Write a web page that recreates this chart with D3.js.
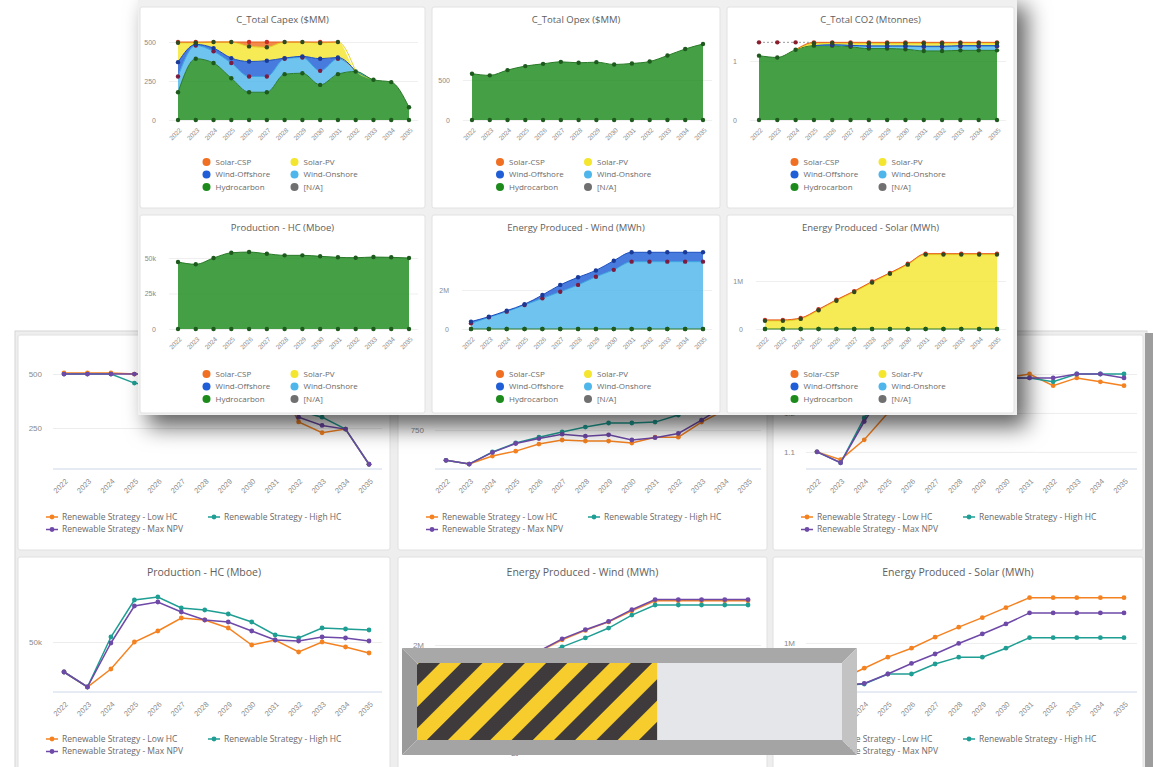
<!DOCTYPE html>
<html>
<head>
<meta charset="utf-8">
<script src="https://cdn.jsdelivr.net/npm/d3@7"></script>
<style>
html,body{margin:0;padding:0;background:#ffffff;}
svg{display:block;font-family:"Open Sans","Noto Sans","DejaVu Sans",sans-serif;}
</style>
</head>
<body>
<svg id="chart" width="1153" height="767"></svg>
<script>
// ---------------- DATA ----------------
const years = ["2022","2023","2024","2025","2026","2027","2028","2029","2030","2031","2032","2033","2034","2035"];

// foreground: stacked areas by technology
const capexHydrocarbon  = [178, 393, 365, 268, 178, 178, 294, 300, 225, 294, 311, 258, 243, 82];
const capexWindOnshore  = [101, 85, 75, 97, 101, 101, 99, 101, 90, 99, 0, 0, 0, 0];
const capexWindOffshore = [92, 7, 21, 32, 96, 101, 4, 7, 78, 8, 0, 0, 0, 0];
const capexSolarPV      = [124, 10, 39, 103, 97, 86, 103, 92, 101, 99, 0, 0, 0, 0];
const capexSolarCSP     = [5, 5, 0, 0, 28, 34, 0, 0, 6, 0, 0, 0, 0, 0];
const capexNA           = [0, 0, 0, 0, 0, 0, 0, 0, 0, 0, 0, 0, 0, 0];

const opexHydrocarbon   = [579, 558, 624, 674, 702, 727, 715, 723, 694, 707, 731, 806, 888, 950];
const opexWindOnshore   = [0, 0, 0, 0, 0, 0, 0, 0, 0, 0, 0, 0, 0, 0];
const opexWindOffshore  = [0, 0, 0, 0, 0, 0, 0, 0, 0, 0, 0, 0, 0, 0];
const opexSolarPV       = [0, 0, 0, 0, 0, 0, 0, 0, 0, 0, 0, 0, 0, 0];
const opexSolarCSP      = [0, 0, 0, 0, 0, 0, 0, 0, 0, 0, 0, 0, 0, 0];
const opexNA            = [0, 0, 0, 0, 0, 0, 0, 0, 0, 0, 0, 0, 0, 0];

const co2Hydrocarbon    = [1.09, 1.06, 1.19, 1.26, 1.26, 1.24, 1.21, 1.21, 1.20, 1.17, 1.17, 1.18, 1.18, 1.18];
const co2WindOnshore    = [0, 0, 0, 0, 0.01, 0.02, 0.04, 0.04, 0.05, 0.07, 0.07, 0.07, 0.07, 0.07];
const co2WindOffshore   = [0, 0, 0, 0, 0.005, 0.005, 0.005, 0.005, 0.005, 0.01, 0.01, 0.01, 0.01, 0.01];
const co2SolarPV        = [0, 0, 0, 0.04, 0.03, 0.035, 0.045, 0.045, 0.045, 0.05, 0.05, 0.045, 0.045, 0.045];
const co2SolarCSP       = [0, 0, 0, 0.016, 0.011, 0.016, 0.016, 0.016, 0.016, 0.016, 0.016, 0.011, 0.011, 0.011];
const co2NA             = [0.226, 0.256, 0.126, 0, 0, 0, 0, 0, 0, 0, 0, 0, 0, 0];

const hcHydrocarbon     = [47200, 45600, 50000, 53700, 54200, 53000, 51900, 51900, 51200, 50500, 50200, 50700, 50500, 50000];
const hcWindOnshore     = [0, 0, 0, 0, 0, 0, 0, 0, 0, 0, 0, 0, 0, 0];
const hcWindOffshore    = [0, 0, 0, 0, 0, 0, 0, 0, 0, 0, 0, 0, 0, 0];
const hcSolarPV         = [0, 0, 0, 0, 0, 0, 0, 0, 0, 0, 0, 0, 0, 0];
const hcSolarCSP        = [0, 0, 0, 0, 0, 0, 0, 0, 0, 0, 0, 0, 0, 0];
const hcNA              = [0, 0, 0, 0, 0, 0, 0, 0, 0, 0, 0, 0, 0, 0];

const windHydrocarbon   = [0, 0, 0, 0, 0, 0, 0, 0, 0, 0, 0, 0, 0, 0];
const windWindOnshore   = [290000, 600000, 890000, 1230000, 1570000, 1910000, 2260000, 2680000, 3030000, 3450000, 3450000, 3450000, 3450000, 3450000];
const windWindOffshore  = [90000, 30000, 50000, 40000, 170000, 350000, 390000, 320000, 470000, 480000, 480000, 480000, 480000, 480000];
const windSolarPV       = [0, 0, 0, 0, 0, 0, 0, 0, 0, 0, 0, 0, 0, 0];
const windSolarCSP      = [0, 0, 0, 0, 0, 0, 0, 0, 0, 0, 0, 0, 0, 0];
const windNA            = [0, 0, 0, 0, 0, 0, 0, 0, 0, 0, 0, 0, 0, 0];

const solarHydrocarbon  = [0, 0, 0, 0, 0, 0, 0, 0, 0, 0, 0, 0, 0, 0];
const solarWindOnshore  = [0, 0, 0, 0, 0, 0, 0, 0, 0, 0, 0, 0, 0, 0];
const solarWindOffshore = [0, 0, 0, 0, 0, 0, 0, 0, 0, 0, 0, 0, 0, 0];
const solarSolarPV      = [170000, 170000, 210000, 390000, 590000, 770000, 970000, 1150000, 1340000, 1550000, 1550000, 1550000, 1550000, 1550000];
const solarSolarCSP     = [20000, 20000, 20000, 20000, 20000, 20000, 20000, 20000, 20000, 20000, 20000, 20000, 20000, 20000];
const solarNA           = [0, 0, 0, 0, 0, 0, 0, 0, 0, 0, 0, 0, 0, 0];

// background: line charts by strategy
const capexLowHC  = [505, 505, 505, 500, 500, 500, 500, 500, 500, 500, 278, 228, 245, 82];
const capexHighHC = [500, 500, 500, 458, 440, 430, 430, 420, 400, 380, 330, 300, 245, 82];
const capexMaxNPV = [500, 500, 500, 500, 500, 500, 500, 500, 500, 500, 300, 262, 245, 82];

const opexLowHC  = [579, 558, 603, 631, 671, 694, 688, 688, 677, 710, 710, 795, 863, 920];
const opexHighHC = [579, 558, 626, 677, 710, 739, 767, 790, 790, 795, 835, 880, 940, 990];
const opexMaxNPV = [579, 558, 624, 674, 702, 727, 715, 723, 694, 707, 731, 806, 888, 950];

const co2LowHC  = [1.10, 1.08, 1.131, 1.20, 1.25, 1.27, 1.28, 1.28, 1.29, 1.30, 1.27, 1.29, 1.28, 1.27];
const co2HighHC = [1.10, 1.072, 1.187, 1.27, 1.28, 1.28, 1.29, 1.29, 1.29, 1.29, 1.28, 1.30, 1.30, 1.30];
const co2MaxNPV = [1.10, 1.072, 1.178, 1.27, 1.28, 1.28, 1.29, 1.29, 1.29, 1.29, 1.29, 1.30, 1.30, 1.29];

const hcLowHC  = [47000, 45500, 47300, 50000, 51100, 52400, 52200, 51400, 49700, 50200, 49000, 50000, 49500, 48900];
const hcHighHC = [47000, 45500, 50500, 54200, 54500, 53400, 53200, 52800, 52000, 50700, 50400, 51400, 51300, 51200];
const hcMaxNPV = [47000, 45500, 49900, 53600, 54000, 53000, 52200, 52000, 51100, 50200, 50100, 50500, 50400, 50100];

const windLowHC  = [380000, 630000, 940000, 1270000, 1720000, 2220000, 2620000, 2980000, 3450000, 3880000, 3880000, 3880000, 3880000, 3880000];
const windHighHC = [380000, 600000, 850000, 1150000, 1550000, 1920000, 2300000, 2720000, 3270000, 3700000, 3700000, 3700000, 3700000, 3700000];
const windMaxNPV = [380000, 630000, 940000, 1270000, 1740000, 2260000, 2650000, 3000000, 3500000, 3930000, 3930000, 3930000, 3930000, 3930000];

const solarLowHC  = [190000, 310000, 520000, 730000, 900000, 1110000, 1300000, 1480000, 1670000, 1860000, 1860000, 1860000, 1860000, 1860000];
const solarHighHC = [190000, 190000, 220000, 410000, 410000, 600000, 730000, 730000, 900000, 1100000, 1100000, 1100000, 1100000, 1100000];
const solarMaxNPV = [190000, 190000, 230000, 410000, 610000, 790000, 990000, 1170000, 1360000, 1570000, 1570000, 1570000, 1570000, 1570000];

const stackKeys = ["Hydrocarbon", "Wind-Onshore", "Wind-Offshore", "Solar-PV", "Solar-CSP", "[N/A]"];
const legendKeys = ["Solar-CSP", "Solar-PV", "Wind-Offshore", "Wind-Onshore", "Hydrocarbon", "[N/A]"];
const strategyNames = ["Renewable Strategy - Low HC", "Renewable Strategy - High HC", "Renewable Strategy - Max NPV"];
const progressValue = [0.565];

// ---------------- STYLE ----------------
const techColor = {"Solar-CSP":"#f06f22","Solar-PV":"#f4e52f","Wind-Offshore":"#1f5ed6","Wind-Onshore":"#4fb6ec","Hydrocarbon":"#1c8b1c","[N/A]":"#707070"};
const techLine  = {"Solar-CSP":"#e8601a","Solar-PV":"#e2d21e","Wind-Offshore":"#1b4fc0","Wind-Onshore":"#3aa4e0","Hydrocarbon":"#2a7a2a","[N/A]":"#9a9a9a"};
const techMarker= {"Solar-CSP":"#cc2f26","Solar-PV":"#2f4a22","Wind-Offshore":"#1a3a98","Wind-Onshore":"#7c1c40","Hydrocarbon":"#1e5a1e","[N/A]":"#8a1c2c"};
const strategyColors = ["#f58220", "#1f9e94", "#6e49a8"];

function fmt(v){ if (v >= 1e6) return (v/1e6) + "M"; if (v >= 1000) return (v/1000) + "k"; return String(v); }

const svg = d3.select("#chart");
const defs = svg.append("defs");
const sh = defs.append("filter").attr("id","shadow").attr("x","-20%").attr("y","-20%").attr("width","150%").attr("height","160%");
sh.append("feDropShadow").attr("dx",10).attr("dy",12).attr("stdDeviation",11).attr("flood-color","#000").attr("flood-opacity",0.62);
const pat = defs.append("pattern").attr("id","hazard").attr("patternUnits","userSpaceOnUse")
  .attr("width",30).attr("height",30).attr("patternTransform","rotate(45)");
pat.append("rect").attr("width",15).attr("height",30).attr("fill","#f6cd2c");
pat.append("rect").attr("x",15).attr("width",15).attr("height",30).attr("fill","#3f3a3c");

// ---------------- BACKGROUND DASHBOARD (lines) ----------------
const lineCards = [
  {title:"C_Total Capex ($MM)", x:18, y:335, w:372, h:215, px:[64,369], py:[469,360], dom:[60,565], ticks:[250,500], series:[capexLowHC,capexHighHC,capexMaxNPV]},
  {title:"C_Total Opex ($MM)", x:398, y:335, w:369, h:215, px:[446,748], py:[469,360], dom:[530,1146], ticks:[750,1000], series:[opexLowHC,opexHighHC,opexMaxNPV]},
  {title:"C_Total CO2 (Mtonnes)", x:773, y:335, w:370, h:215, px:[817,1124], py:[469,360], dom:[1.056,1.336], ticks:[1.1,1.2,1.3], series:[co2LowHC,co2HighHC,co2MaxNPV]},
  {title:"Production - HC (Mboe)", x:18, y:557, w:372, h:214, px:[64,369], py:[692,585], dom:[45000,55700], ticks:[50000], series:[hcLowHC,hcHighHC,hcMaxNPV]},
  {title:"Energy Produced - Wind (MWh)", x:398, y:557, w:369, h:214, px:[446,748], py:[692,585], dom:[0,4550000], ticks:[2000000], series:[windLowHC,windHighHC,windMaxNPV]},
  {title:"Energy Produced - Solar (MWh)", x:773, y:557, w:370, h:214, px:[817,1124], py:[692,585], dom:[68000,2100000], ticks:[1000000], series:[solarLowHC,solarHighHC,solarMaxNPV]}
];

function drawLineCard(g, c){
  g.append("rect").attr("x",c.x).attr("y",c.y).attr("width",c.w).attr("height",c.h).attr("rx",2)
    .attr("fill","#ffffff").attr("stroke","#e0e0e0");
  g.append("text").attr("x",c.x+c.w/2).attr("y",c.y+19).attr("text-anchor","middle")
    .attr("font-size",10.5).attr("fill","#5e5e5e").text(c.title);
  const x = d3.scalePoint().domain(years).range(c.px);
  const y = d3.scaleLinear().domain(c.dom).range(c.py);
  const x0 = c.px[0]-11, x1 = c.px[1]+13;
  const ya = g.append("g").attr("transform",`translate(${x1},0)`)
    .call(d3.axisLeft(y).tickValues(c.ticks).tickSize(x1-x0).tickPadding(11).tickFormat(fmt));
  ya.select(".domain").remove();
  ya.selectAll("line").attr("stroke","#ededed");
  ya.selectAll("text").attr("font-size",8).attr("fill","#8a8a8a").attr("font-family",null);
  g.append("line").attr("x1",x0).attr("x2",x1).attr("y1",c.py[0]).attr("y2",c.py[0]).attr("stroke","#cdd8e8");
  const xa = g.append("g").attr("transform",`translate(0,${c.py[0]})`).call(d3.axisBottom(x).tickSize(0));
  xa.select(".domain").remove();
  xa.selectAll("text").attr("font-size",7.5).attr("fill","#8a8a8a").attr("font-family",null)
    .attr("text-anchor","end").attr("y",0).attr("dy","0.35em").attr("transform","translate(2,11) rotate(-45)");
  const line = d3.line().x((d,i)=>x(years[i])).y(d=>y(d));
  c.series.forEach((vals, si)=>{
    g.append("path").attr("d", line(vals)).attr("fill","none").attr("stroke",strategyColors[si]).attr("stroke-width",1.5);
    g.append("g").selectAll("circle").data(vals).join("circle")
      .attr("cx",(d,i)=>x(years[i])).attr("cy",d=>y(d)).attr("r",2.4).attr("fill",strategyColors[si]);
  });
  const items = [{dx:0,dy:0},{dx:162,dy:0},{dx:0,dy:12.5}];
  items.forEach((it, si)=>{
    const lx = c.x+34+it.dx, ly = c.y+182+it.dy;
    g.append("line").attr("x1",lx-6).attr("x2",lx+6).attr("y1",ly).attr("y2",ly).attr("stroke",strategyColors[si]).attr("stroke-width",1.5);
    g.append("circle").attr("cx",lx).attr("cy",ly).attr("r",2.4).attr("fill",strategyColors[si]);
    g.append("text").attr("x",lx+10).attr("y",ly).attr("dy","0.34em").attr("font-size",8.5).attr("fill","#6a6a6a").text(strategyNames[si]);
  });
}

const back = svg.append("g");
back.append("rect").attr("x",15).attr("y",331).attr("width",1132).attr("height",440).attr("fill","#eeeeee").attr("stroke","#d6d6d6");
back.append("rect").attr("x",1145).attr("y",333).attr("width",8).attr("height",434).attr("fill","#9d9d9d");
lineCards.forEach(c=>drawLineCard(back.append("g"), c));

// ---------------- FOREGROUND DASHBOARD (stacked areas) ----------------
const areaCards = [
  {title:"C_Total Capex ($MM)", x:140, y:7, w:285, h:201, px:[178,409], py:[120,30], dom:[0,577], ticks:[0,250,500], legendY:162,
   layers:{"Hydrocarbon":capexHydrocarbon,"Wind-Onshore":capexWindOnshore,"Wind-Offshore":capexWindOffshore,"Solar-PV":capexSolarPV,"Solar-CSP":capexSolarCSP,"[N/A]":capexNA}},
  {title:"C_Total Opex ($MM)", x:432, y:7, w:288, h:201, px:[472,703], py:[120,30], dom:[0,1125], ticks:[0,500], legendY:162,
   layers:{"Hydrocarbon":opexHydrocarbon,"Wind-Onshore":opexWindOnshore,"Wind-Offshore":opexWindOffshore,"Solar-PV":opexSolarPV,"Solar-CSP":opexSolarCSP,"[N/A]":opexNA}},
  {title:"C_Total CO2 (Mtonnes)", x:727, y:7, w:287, h:201, px:[759,997], py:[120,30], dom:[0,1.525], ticks:[0,1], legendY:162,
   layers:{"Hydrocarbon":co2Hydrocarbon,"Wind-Onshore":co2WindOnshore,"Wind-Offshore":co2WindOffshore,"Solar-PV":co2SolarPV,"Solar-CSP":co2SolarCSP,"[N/A]":co2NA}},
  {title:"Production - HC (Mboe)", x:140, y:215, w:285, h:198, px:[178,409], py:[329,240], dom:[0,62700], ticks:[0,25000,50000], legendY:374,
   layers:{"Hydrocarbon":hcHydrocarbon,"Wind-Onshore":hcWindOnshore,"Wind-Offshore":hcWindOffshore,"Solar-PV":hcSolarPV,"Solar-CSP":hcSolarCSP,"[N/A]":hcNA}},
  {title:"Energy Produced - Wind (MWh)", x:432, y:215, w:288, h:198, px:[471,703], py:[329,240], dom:[0,4560000], ticks:[0,2000000], legendY:374,
   layers:{"Hydrocarbon":windHydrocarbon,"Wind-Onshore":windWindOnshore,"Wind-Offshore":windWindOffshore,"Solar-PV":windSolarPV,"Solar-CSP":windSolarCSP,"[N/A]":windNA}},
  {title:"Energy Produced - Solar (MWh)", x:727, y:215, w:287, h:198, px:[765,997], py:[329,240], dom:[0,1854000], ticks:[0,1000000], legendY:374,
   layers:{"Hydrocarbon":solarHydrocarbon,"Wind-Onshore":solarWindOnshore,"Wind-Offshore":solarWindOffshore,"Solar-PV":solarSolarPV,"Solar-CSP":solarSolarCSP,"[N/A]":solarNA}}
];

function drawAreaCard(g, c){
  g.append("rect").attr("x",c.x).attr("y",c.y).attr("width",c.w).attr("height",c.h).attr("rx",2)
    .attr("fill","#ffffff").attr("stroke","#e2e2e2");
  g.append("text").attr("x",c.x+c.w/2).attr("y",c.y+16).attr("text-anchor","middle")
    .attr("font-size",9.5).attr("fill","#5e5e5e").text(c.title);
  const x = d3.scalePoint().domain(years).range(c.px);
  const y = d3.scaleLinear().domain(c.dom).range(c.py);
  const x0 = c.px[0]-9, x1 = c.px[1]+9;
  const ya = g.append("g").attr("transform",`translate(${x1},0)`)
    .call(d3.axisLeft(y).tickValues(c.ticks).tickSize(x1-x0).tickPadding(13).tickFormat(fmt));
  ya.select(".domain").remove();
  ya.selectAll("line").attr("stroke","#efefef");
  ya.selectAll("text").attr("font-size",7).attr("fill","#8a8a8a").attr("font-family",null);
  const xa = g.append("g").attr("transform",`translate(0,${c.py[0]})`).call(d3.axisBottom(x).tickSize(0));
  xa.select(".domain").remove();
  xa.selectAll("text").attr("font-size",6.5).attr("fill","#8a8a8a").attr("font-family",null)
    .attr("text-anchor","end").attr("y",0).attr("dy","0.35em").attr("transform","translate(2,9) rotate(-45)");

  const table = years.map((yr,i)=>{ const row = {}; stackKeys.forEach(k=>row[k]=c.layers[k][i]); return row; });
  const stacked = d3.stack().keys(stackKeys)(table);
  const area = d3.area().curve(d3.curveMonotoneX).x((d,i)=>x(years[i])).y0(d=>y(d[0])).y1(d=>y(d[1]));
  stacked.forEach(layer=>{
    const k = layer.key;
    g.append("path").attr("d", area(layer)).attr("fill", techColor[k]).attr("fill-opacity", k==="[N/A]" ? 0 : 0.82);
  });
  stacked.forEach(layer=>{
    const k = layer.key, vals = c.layers[k];
    const top = d3.line().curve(d3.curveMonotoneX)
      .defined((d,i)=> k==="Hydrocarbon" || vals[i]>0 || (i>0 && vals[i-1]>0) || (i<vals.length-1 && vals[i+1]>0))
      .x((d,i)=>x(years[i])).y(d=>y(d[1]));
    g.append("path").attr("d", top(layer)).attr("fill","none").attr("stroke", techLine[k])
      .attr("stroke-width", 1).attr("stroke-dasharray", k==="[N/A]" ? "2,2" : null);
  });
  // baseline markers
  g.append("g").selectAll("circle").data(years).join("circle")
    .attr("cx",d=>x(d)).attr("cy",y(0)).attr("r",2.2).attr("fill",techMarker["Hydrocarbon"]);
  const markerOrder = ["Hydrocarbon","Wind-Onshore","Wind-Offshore","Solar-CSP","Solar-PV","[N/A]"];
  markerOrder.forEach(k=>{
    const layer = stacked.find(l=>l.key===k);
    const vals = c.layers[k];
    const pts = layer.map((d,i)=>({i, v:d[1], on: vals[i]>0 || k==="Hydrocarbon"})).filter(p=>p.on);
    g.append("g").selectAll("circle").data(pts).join("circle")
      .attr("cx",p=>x(years[p.i])).attr("cy",p=>y(p.v)).attr("r",2.2).attr("fill",techMarker[k]);
  });
  // legend
  const cx = c.x + c.w/2;
  legendKeys.forEach((k, li)=>{
    const col = li % 2, row = Math.floor(li/2);
    const lx = cx + (col===0 ? -76 : 12), ly = c.legendY + row*12.5;
    g.append("circle").attr("cx",lx).attr("cy",ly).attr("r",4).attr("fill",techColor[k]);
    g.append("text").attr("x",lx+9).attr("y",ly).attr("dy","0.34em").attr("font-size",8).attr("fill","#6a6a6a").text(k);
  });
}

const front = svg.append("g");
front.append("rect").attr("x",138).attr("y",-6).attr("width",879).attr("height",421).attr("fill","#f0f0f0").attr("filter","url(#shadow)");
areaCards.forEach(c=>drawAreaCard(front.append("g"), c));

// ---------------- PROGRESS BAR ----------------
const bar = {x:402, y:648, w:455, h:107, b:15};
const pg = svg.append("g");
const X = bar.x, Y = bar.y, Wd = bar.w, Ht = bar.h, b = bar.b;
const bevels = [
  {pts:[[X,Y],[X+Wd,Y],[X+Wd-b,Y+b],[X+b,Y+b]], fill:"#a8a8a8"},
  {pts:[[X,Y],[X+b,Y+b],[X+b,Y+Ht-b],[X,Y+Ht]], fill:"#9a9a9a"},
  {pts:[[X,Y+Ht],[X+b,Y+Ht-b],[X+Wd-b,Y+Ht-b],[X+Wd,Y+Ht]], fill:"#a4a4a4"},
  {pts:[[X+Wd,Y],[X+Wd,Y+Ht],[X+Wd-b,Y+Ht-b],[X+Wd-b,Y+b]], fill:"#c3c3c3"}
];
pg.selectAll("polygon").data(bevels).join("polygon")
  .attr("points",d=>d.pts.map(p=>p.join(",")).join(" ")).attr("fill",d=>d.fill);
const innerW = Wd - 2*b;
pg.append("rect").attr("x",X+b).attr("y",Y+b).attr("width",innerW).attr("height",Ht-2*b).attr("fill","#e5e6e9");
const pxs = d3.scaleLinear().domain([0,1]).range([0, innerW]);
pg.append("rect").attr("x",X+b).attr("y",Y+b).attr("width",pxs(progressValue[0])).attr("height",Ht-2*b).attr("fill","url(#hazard)");
</script>
</body>
</html>
